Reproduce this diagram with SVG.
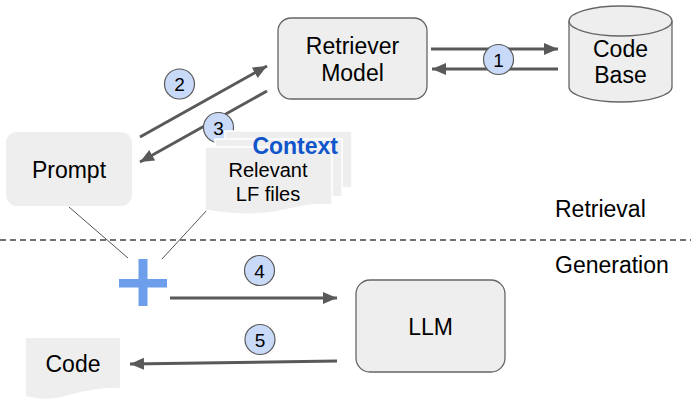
<svg xmlns="http://www.w3.org/2000/svg" width="691" height="409" viewBox="0 0 691 409">
<defs>
<marker id="ah" markerUnits="userSpaceOnUse" markerWidth="16" markerHeight="14" refX="14" refY="6" orient="auto">
<path d="M0,0 L14,6 L0,12 z" fill="#595959"/>
</marker>
<style>
text{font-family:"Liberation Sans",Arial,sans-serif;fill:#000}
.lbl{font-size:23px;text-anchor:middle}
.sm{font-size:20px;text-anchor:middle}
.num{font-size:19px;text-anchor:middle}
.box{fill:#eeeeee;stroke:#666666;stroke-width:1.3}
.doc{fill:#eeeeee;stroke:#ffffff;stroke-width:1.5}
.arr{stroke:#595959;stroke-width:3;fill:none;marker-end:url(#ah)}
.thin{stroke:#555555;stroke-width:1;fill:none}
.badge{fill:#c9daf8;stroke:#595959;stroke-width:1.2}
</style>
</defs>
<rect width="691" height="409" fill="#ffffff"/>

<line x1="0" y1="240" x2="691" y2="240" stroke="#444444" stroke-width="1.5" stroke-dasharray="6,4"/>
<text x="555" y="217" style="font-size:23px">Retrieval</text>
<text x="555" y="273" style="font-size:23px">Generation</text>

<g id="connectors">
<line class="arr" x1="431" y1="49" x2="558" y2="49"/>
<line class="arr" x1="558" y1="69" x2="432" y2="69"/>
<line class="arr" x1="140" y1="137" x2="267" y2="66"/>
<line class="arr" x1="267" y1="91" x2="140" y2="162"/>
<line class="thin" x1="69" y1="207" x2="128" y2="258"/>
<line class="thin" x1="208" y1="209" x2="162" y2="259"/>
<line class="arr" x1="170" y1="298" x2="337" y2="298"/>
<line class="arr" x1="337" y1="361" x2="130" y2="364"/>
</g>

<g id="badges">
<circle class="badge" cx="498.5" cy="59.5" r="15"/><text class="num" x="498.5" y="66.5">1</text>
<circle class="badge" cx="179.5" cy="84" r="15"/><text class="num" x="179.5" y="91">2</text>
<circle class="badge" cx="218.5" cy="127.5" r="15"/><text class="num" x="218.5" y="134.5">3</text>
<circle class="badge" cx="259.5" cy="270.5" r="15"/><text class="num" x="259.5" y="277.5">4</text>
<circle class="badge" cx="260" cy="339.5" r="15"/><text class="num" x="260" y="346.5">5</text>
</g>

<g id="retriever">
<rect class="box" x="278" y="18" width="149" height="81" rx="13"/>
<text class="lbl" x="352.5" y="54">Retriever</text>
<text class="lbl" x="352.5" y="81">Model</text>
</g>

<g id="codebase">
<path class="box" d="M569,21 V87 A51.5,15 0 0 0 672,87 V21 A51.5,15 0 0 0 569,21 Z"/>
<path d="M569,21 A51.5,15 0 0 0 672,21" fill="none" stroke="#666666" stroke-width="1.3"/>
<text class="lbl" x="620.5" y="57">Code</text>
<text class="lbl" x="620.5" y="83">Base</text>
</g>

<g id="prompt">
<rect x="6" y="132" width="126" height="74" rx="11" fill="#eeeeee"/>
<text class="lbl" x="69" y="178">Prompt</text>
</g>

<g id="context">
<path class="doc" d="M225,131 H352 V188 C335,186 320,189 305,193 C285,198 255,198 225,193 Z"/>
<path class="doc" d="M215,139 H342 V197 C325,195 310,198 295,202 C275,207 245,207 215,202 Z"/>
<path class="doc" d="M205,147 H332 V205 C315,203 300,206 285,210 C265,215 235,216 205,210 Z"/>
<text x="338" y="154" style="font-size:23px;font-weight:bold;fill:#1155cc;text-anchor:end">Context</text>
<text class="sm" x="268" y="177">Relevant</text>
<text class="sm" x="268" y="201">LF files</text>
</g>

<g id="plus">
<rect x="138.5" y="259" width="9" height="47" fill="#6d9eeb"/>
<rect x="119" y="279" width="48" height="8.5" fill="#6d9eeb"/>
</g>

<g id="llm">
<rect class="box" x="356" y="280" width="149" height="92" rx="14"/>
<text class="lbl" x="430.5" y="335">LLM</text>
</g>

<g id="code">
<path d="M26,338 H120 V388 C100,387 85,391 65,396 C50,400 38,399 26,396 Z" fill="#eeeeee"/>
<text class="lbl" x="73" y="372">Code</text>
</g>
</svg>
